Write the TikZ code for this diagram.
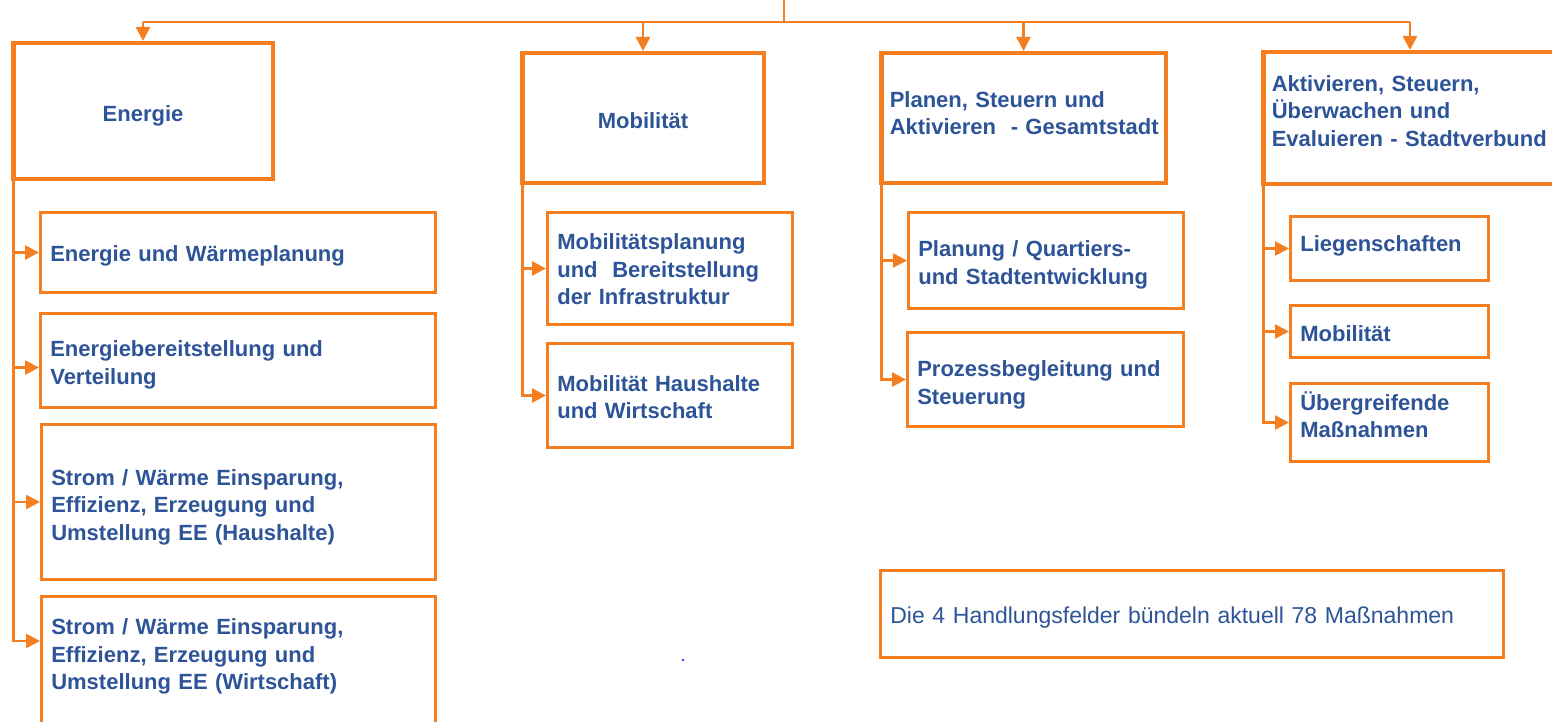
\documentclass[tikz,border=0pt]{standalone}
\usepackage{fontspec}
\setmainfont{Liberation Sans}
\usetikzlibrary{arrows.meta,calc}
\definecolor{feldorange}{RGB}{245,127,32}
\definecolor{feldblau}{RGB}{46,84,152}
\tikzset{
	linie/.style={draw=feldorange, line width=1.25pt},
	pfeil/.style={linie, -{Triangle[width=7pt,length=7pt]}},
	feld/.style={draw=feldorange, line width=2.25pt, inner xsep=4.25pt, align=left, text=feldblau, font=\fontsize{11}{13.75}\selectfont\bfseries},
	massnahme/.style={draw=feldorange, line width=1.3pt, inner xsep=5pt, align=left, text=feldblau, font=\fontsize{11}{13.75}\selectfont\bfseries}
}

\begin{document}
\begin{tikzpicture}[x=0.5pt,y=-0.5pt]
		%%%%% START %%%%%
		\useasboundingbox (0,0) rectangle (1552,722);
		\clip (0,0) rectangle (1552,722);
		
		% Handlungsfelder
		\node[feld, text width=121.25pt, minimum height=67.75pt, align=center, text height=13pt] (energie) at (143,111) {Energie};
		\node[feld, text width=112.25pt, minimum height=64.75pt, align=center, text height=11pt] (mobil) at (643,118) {Mobilität};
		\node[feld, text width=133.75pt, minimum height=64.75pt, text height=3pt] (planen) at (1023.5,118) {Planen, Steuern und\\\mbox{Aktivieren\ \ - Gesamtstadt}};
		\node[feld, text width=138.25pt, minimum height=65.75pt, text height=1pt] (aktiv) at (1410,118) {Aktivieren, Steuern,\\Überwachen und\\\mbox{Evaluieren - Stadtverbund}};
		
		% Energie
		\node[massnahme, text width=187.7pt, minimum height=40.2pt, text height=11pt] (e1) at (238,252.5) {Energie und Wärmeplanung};
		\node[massnahme, text width=187.7pt, minimum height=47.2pt, text height=12.5pt] (e2) at (238,360.5) {Energiebereitstellung und\\Verteilung};
		\node[massnahme, text width=187.2pt, minimum height=77.7pt, text height=13pt] (e3) at (238.5,502) {Strom / Wärme Einsparung,\\Effizienz, Erzeugung und\\Umstellung EE (Haushalte)};
		\node[massnahme, text width=187.2pt, text height=16pt, text depth=60pt, anchor=north] (e4) at (238.5,595) {Strom / Wärme Einsparung,\\Effizienz, Erzeugung und\\Umstellung EE (Wirtschaft)};
		
		% Mobilitaet
		\node[massnahme, text width=112.7pt, minimum height=56.2pt, text height=9pt] (m1) at (670,268.5) {Mobilitätsplanung\\und\ \ Bereitstellung\\der Infrastruktur};
		\node[massnahme, text width=112.7pt, minimum height=52.2pt, text height=9.5pt] (m2) at (670,395.5) {Mobilität Haushalte\\und Wirtschaft};
		
		% Gesamtstadt
		\node[massnahme, text width=127.7pt, minimum height=48.2pt, text height=12.5pt] (p1) at (1046,260.5) {Planung / Quartiers-\\und Stadtentwicklung};
		\node[massnahme, text width=128.2pt, minimum height=47.2pt, text height=13.5pt] (p2) at (1045.5,379.5) {Prozessbegleitung und\\Steuerung};
		
		% Stadtverbund
		\node[massnahme, text width=89.2pt, minimum height=32.2pt, text height=5pt] (a1) at (1389.5,248.5) {Liegenschaften};
		\node[massnahme, text width=89.2pt, minimum height=26.2pt, text height=10pt] (a2) at (1389.5,331.5) {Mobilität};
		\node[massnahme, text width=89.2pt, minimum height=39.2pt, text height=1.7pt] (a3) at (1389.5,422.5) {Übergreifende\\Maßnahmen};
		
		\node[massnahme, text width=301.7pt, minimum height=43.7pt, font=\fontsize{11.5}{14}\selectfont, text height=11.4pt] (summe) at (1192,614) {Die 4 Handlungsfelder bündeln aktuell 78 Maßnahmen};
		
		% Verbindungen oben
		\coordinate (wurzel) at (784,0);
		\coordinate (bus) at (784,22);
		\draw[linie] (wurzel) -- (bus);
		\draw[linie] (energie.north |- bus) -- (aktiv.north |- bus);
		\draw[pfeil] (energie.north |- bus) -- (energie.north);
		\draw[pfeil] (mobil.north |- bus) -- (mobil.north);
		\draw[pfeil] (planen.north |- bus) -- (planen.north);
		\draw[pfeil] (aktiv.north |- bus) -- (aktiv.north);
		
		% Staemme
		\coordinate (estamm) at ([xshift=1.125pt]energie.south west);
		\coordinate (mstamm) at ([xshift=1.125pt]mobil.south west);
		\coordinate (pstamm) at ([xshift=1.125pt]planen.south west);
		\coordinate (astamm) at ([xshift=1.125pt]aktiv.south west);
		\coordinate (e2pfeil) at ($(e2.west)+(0,7)$);
		\coordinate (e4pfeil) at ($(e4.north west)+(0,46)$);
		
		\draw[pfeil] (estamm |- e1.west) -- (e1.west);
		\draw[pfeil] (estamm |- e2pfeil) -- (e2pfeil);
		\draw[pfeil] (estamm |- e3.west) -- (e3.west);
		\draw[pfeil] (estamm) |- (e4pfeil);
		
		\draw[pfeil] (mstamm |- m1.west) -- (m1.west);
		\draw[pfeil] (mstamm) |- (m2.west);
		
		\draw[pfeil] (pstamm |- p1.west) -- (p1.west);
		\draw[pfeil] (pstamm) |- (p2.west);
		
		\draw[pfeil] (astamm |- a1.west) -- (a1.west);
		\draw[pfeil] (astamm |- a2.west) -- (a2.west);
		\draw[pfeil] (astamm) |- (a3.west);
		
		\fill[blue] (683,660) circle (1.2);
		%%%%% END %%%%%
\end{tikzpicture}
\end{document}
